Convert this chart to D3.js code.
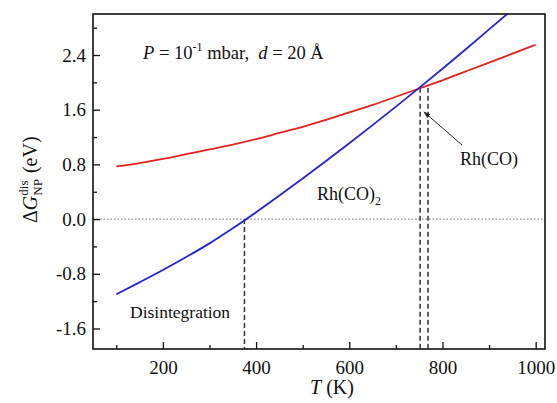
<!DOCTYPE html>
<html>
<head>
<meta charset="utf-8">
<script src="https://cdn.jsdelivr.net/npm/d3@7"></script>
<style>
  html, body { margin: 0; padding: 0; background: #fff; }
  svg { display: block; }
  text { font-family: "Liberation Serif", "Times New Roman", serif; fill: #111; white-space: pre; }
</style>
</head>
<body>
<svg id="chart" width="557" height="403"></svg>
<script>
// ---- data ----
const temps = [100,150,200,250,300,350,400,450,500,550,600,650,700,750,800,850,900,950,1000];
const rhCO  = [0.77,0.82,0.88,0.95,1.02,1.09,1.17,1.26,1.35,1.45,1.56,1.67,1.79,1.91,2.03,2.16,2.29,2.42,2.55];
const tempsCO2 = [100,150,200,250,300,350,400,450,500,550,600,650,700,750,800,850,900,950];
const rhCO2 = [-1.10,-0.925,-0.745,-0.555,-0.355,-0.135,0.10,0.345,0.595,0.85,1.11,1.375,1.645,1.92,2.20,2.485,2.775,3.065];
const xMajor = [200,400,600,800,1000];
const xMinor = [100,300,500,700,900];
const yMajor = [-1.6,-0.8,0.0,0.8,1.6,2.4];
const yMinor = [-1.2,-0.4,0.4,1.2,2.0,2.8];
const disintegrationT = 375;
const crossT = [752, 769];
const crossV = 1.92;

// ---- layout ----
const svg = d3.select("#chart");
const L = 93, R = 545, T = 14, B = 349;
const x = d3.scaleLinear().domain([50,1020]).range([L,R]);
const y = d3.scaleLinear().domain([-1.9,3.0]).range([B,T]);

svg.append("defs").append("clipPath").attr("id","clip")
  .append("rect").attr("x",L).attr("y",T).attr("width",R-L).attr("height",B-T);
const marker = svg.select("defs").append("marker")
  .attr("id","arrow").attr("viewBox","0 0 10 10").attr("refX",9).attr("refY",5)
  .attr("markerWidth",7).attr("markerHeight",7).attr("orient","auto")
  .attr("markerUnits","userSpaceOnUse");
marker.append("path").attr("d","M0,1.5 L10,5 L0,8.5 Z").attr("fill","#222");

// zero dotted line
svg.append("line").attr("x1",L).attr("x2",R).attr("y1",y(0)).attr("y2",y(0))
  .attr("stroke","#8a8a8a").attr("stroke-width",1.2).attr("stroke-dasharray","1.5,2");

// dashed verticals
const dash = "5,3";
svg.append("line").attr("x1",x(disintegrationT)).attr("x2",x(disintegrationT))
  .attr("y1",y(0)).attr("y2",B).attr("stroke","#333").attr("stroke-width",1.5).attr("stroke-dasharray",dash);
crossT.forEach(t => {
  svg.append("line").attr("x1",x(t)).attr("x2",x(t))
    .attr("y1",y(crossV)).attr("y2",B).attr("stroke","#333").attr("stroke-width",1.5).attr("stroke-dasharray",dash);
});

// curves
const line = d3.line().curve(d3.curveMonotoneX);
const g = svg.append("g").attr("clip-path","url(#clip)");
g.append("path").attr("d", line(temps.map((t,i)=>[x(t),y(rhCO[i])])))
  .attr("fill","none").attr("stroke","#e5211f").attr("stroke-width",1.8);
g.append("path").attr("d", line(tempsCO2.map((t,i)=>[x(t),y(rhCO2[i])])))
  .attr("fill","none").attr("stroke","#2424d6").attr("stroke-width",1.8);

// axes
const fmt = d => d3.format(".1f")(d).replace("\u2212","-");
svg.append("g").attr("transform",`translate(0,${B})`)
  .call(d3.axisBottom(x).tickValues(xMajor).tickSize(-7).tickPadding(12).tickFormat(d3.format("d")));
svg.append("g").attr("transform",`translate(0,${B})`)
  .call(d3.axisBottom(x).tickValues(xMinor).tickSize(-4).tickFormat(""));
svg.append("g").attr("transform",`translate(${L},0)`)
  .call(d3.axisLeft(y).tickValues(yMajor).tickSize(-7).tickPadding(7).tickFormat(fmt));
svg.append("g").attr("transform",`translate(${L},0)`)
  .call(d3.axisLeft(y).tickValues(yMinor).tickSize(-4).tickFormat(""));
svg.selectAll(".domain").remove();
svg.selectAll(".tick line").attr("stroke","#111").attr("stroke-width",1.3);
svg.selectAll(".tick text").attr("font-size",19).attr("font-family","Liberation Serif").attr("fill","#111");

// frame
svg.append("rect").attr("x",L).attr("y",T).attr("width",R-L).attr("height",B-T)
  .attr("fill","none").attr("stroke","#111").attr("stroke-width",1.6);

// x label
const xl = svg.append("text").attr("x",310).attr("y",394).attr("font-size",20);
xl.append("tspan").attr("font-style","italic").text("T");
xl.append("tspan").text(" (K)");

// y label (rotated)
const yl = svg.append("g").attr("transform","translate(37,223) rotate(-90)");
let cx = 0;
function part(str, opts) {
  const t = yl.append("text").attr("x",cx).attr("y",opts.dy||0).attr("font-size",opts.size||20)
    .attr("font-style",opts.italic?"italic":"normal").text(str);
  return t.node().getComputedTextLength();
}
cx += part("Δ",{});
cx += part("G",{italic:true});
const w1 = part("dis",{size:13,dy:-9});
const w2 = part("NP",{size:13,dy:5});
cx += Math.max(w1,w2) + 1;
cx += part(" (eV)",{});

// annotation texts
const ann = svg.append("text").attr("x",143).attr("y",59).attr("font-size",18.5);
ann.append("tspan").attr("font-style","italic").text("P");
ann.append("tspan").text(" = 10");
ann.append("tspan").attr("font-size",12).attr("dy",-8).text("-1");
ann.append("tspan").attr("dy",8).text("\u00a0mbar,\u00a0\u00a0");
ann.append("tspan").attr("font-style","italic").text("d");
ann.append("tspan").text(" = 20 Å");

svg.append("text").attr("x",460).attr("y",165).attr("font-size",18).text("Rh(CO)");
const co2 = svg.append("text").attr("x",317).attr("y",200).attr("font-size",18);
co2.append("tspan").text("Rh(CO)");
co2.append("tspan").attr("font-size",12).attr("dy",5).text("2");
svg.append("text").attr("x",130).attr("y",318).attr("font-size",17.5).text("Disintegration");

// arrow
svg.append("line").attr("x1",462).attr("y1",145).attr("x2",424).attr("y2",112)
  .attr("stroke","#222").attr("stroke-width",1).attr("marker-end","url(#arrow)");
</script>
</body>
</html>
